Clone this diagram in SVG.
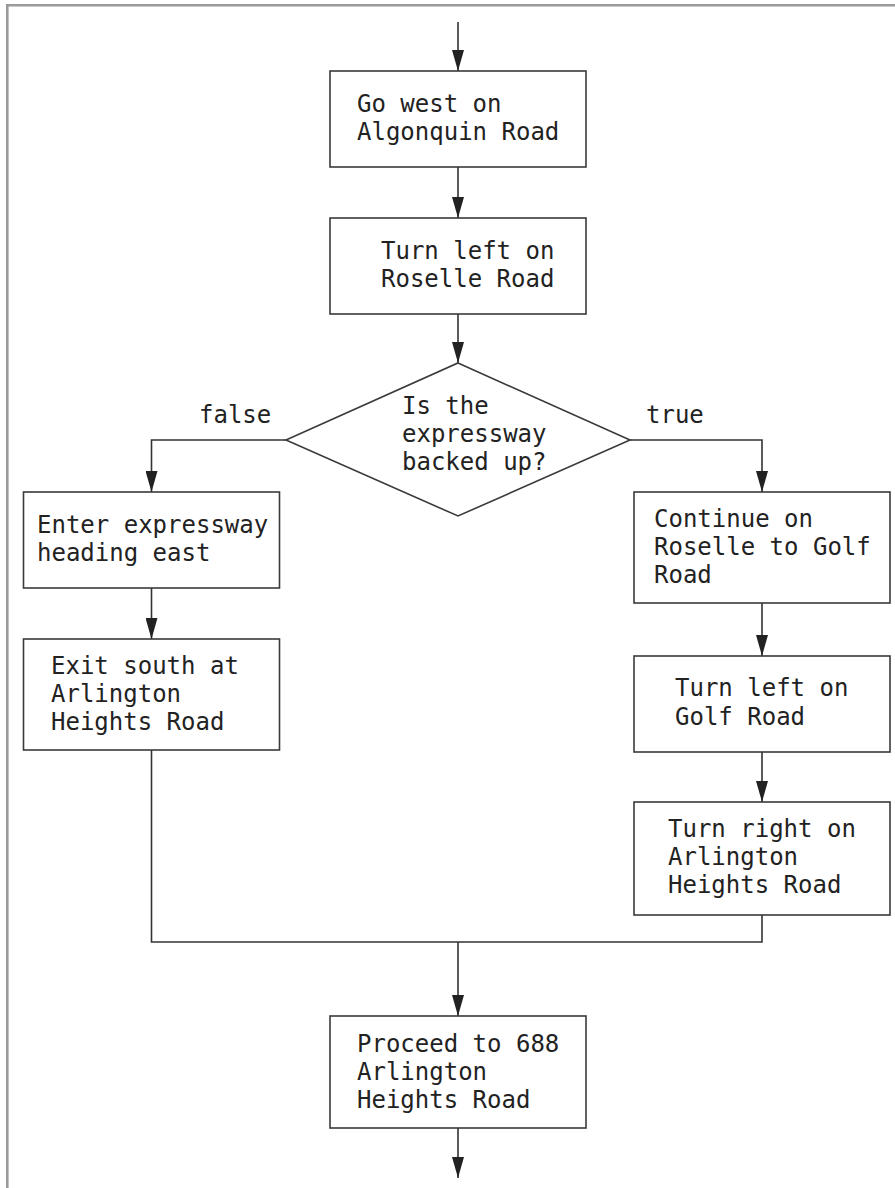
<svg xmlns="http://www.w3.org/2000/svg" width="895" height="1188" viewBox="0 0 895 1188">
  <style>
    .box { fill: #ffffff; stroke: #3a3a3a; stroke-width: 1.6; }
    .wire { fill: none; stroke: #333333; stroke-width: 1.6; }
    .arrow { marker-end: url(#head); }
    text { font-family: "DejaVu Sans Mono", "Liberation Mono", monospace; font-size: 24px; fill: #222222; }
  </style>
  <defs>
    <marker id="head" viewBox="0 0 21 12" refX="21" refY="6" markerWidth="21" markerHeight="12" markerUnits="userSpaceOnUse" orient="auto">
      <path d="M0,0 L21,6 L0,12 Z" fill="#222222"/>
    </marker>
  </defs>
  <rect width="895" height="1188" fill="#ffffff"/>
  <!-- frame -->
  <path d="M7.3,1188 V5.3 H895" fill="none" stroke="#9a9a9a" stroke-width="2.6"/>

  <g id="connectors">
    <path class="wire arrow" d="M458,22 V71"/>
    <path class="wire arrow" d="M458,167 V218"/>
    <path class="wire arrow" d="M458,314 V363"/>
    <path class="wire arrow" d="M286,440 H151.5 V492"/>
    <path class="wire arrow" d="M630,440 H762 V492"/>
    <path class="wire arrow" d="M151.5,588 V639"/>
    <path class="wire arrow" d="M762,603 V656"/>
    <path class="wire arrow" d="M762,752 V802"/>
    <path class="wire" d="M151.5,750 V942 H762 V915"/>
    <path class="wire arrow" d="M458,942 V1016"/>
    <path class="wire arrow" d="M458,1128 V1178"/>
    <text x="199" y="423">false</text>
    <text x="646" y="423">true</text>
  </g>

  <g id="go-west">
    <rect class="box" x="330" y="71" width="256" height="96"/>
    <text x="357" y="112">Go west on</text>
    <text x="357" y="140">Algonquin Road</text>
  </g>

  <g id="turn-left-roselle">
    <rect class="box" x="330" y="218" width="256" height="96"/>
    <text x="381" y="259">Turn left on</text>
    <text x="381" y="287">Roselle Road</text>
  </g>

  <g id="decision">
    <polygon class="box" points="458,363 630,440 458,516 286,440"/>
    <text x="402" y="414">Is the</text>
    <text x="402" y="442">expressway</text>
    <text x="402" y="470">backed up?</text>
  </g>

  <g id="enter-expressway">
    <rect class="box" x="23.5" y="492" width="256" height="96"/>
    <text x="37" y="533">Enter expressway</text>
    <text x="37" y="561">heading east</text>
  </g>

  <g id="exit-south">
    <rect class="box" x="23.5" y="639" width="256" height="111"/>
    <text x="51" y="674">Exit south at</text>
    <text x="51" y="702">Arlington</text>
    <text x="51" y="730">Heights Road</text>
  </g>

  <g id="continue-roselle">
    <rect class="box" x="634" y="492" width="256" height="111"/>
    <text x="654" y="527">Continue on</text>
    <text x="654" y="555">Roselle to Golf</text>
    <text x="654" y="583">Road</text>
  </g>

  <g id="turn-left-golf">
    <rect class="box" x="634" y="656" width="256" height="96"/>
    <text x="675" y="696">Turn left on</text>
    <text x="675" y="725">Golf Road</text>
  </g>

  <g id="turn-right-arlington">
    <rect class="box" x="634" y="802" width="256" height="113"/>
    <text x="668" y="837">Turn right on</text>
    <text x="668" y="865">Arlington</text>
    <text x="668" y="893">Heights Road</text>
  </g>

  <g id="proceed">
    <rect class="box" x="330" y="1016" width="256" height="112"/>
    <text x="357" y="1052">Proceed to 688</text>
    <text x="357" y="1080">Arlington</text>
    <text x="357" y="1108">Heights Road</text>
  </g>
</svg>
